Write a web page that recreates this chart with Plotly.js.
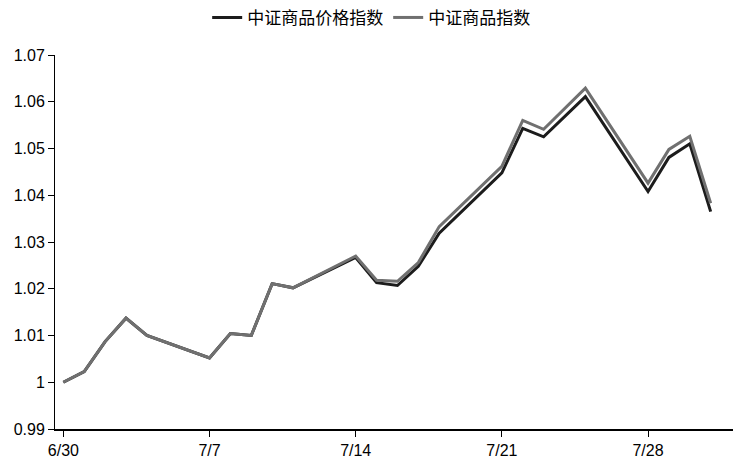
<!DOCTYPE html>
<html>
<head>
<meta charset="utf-8">
<script src="https://cdn.plot.ly/plotly-3.0.1.min.js"></script>
<style>html,body{margin:0;padding:0;background:#fff;}#chart{width:735px;height:471px;}</style>
</head>
<body>
<div id="chart"></div>
<script>
const dates = ['2025-06-30','2025-07-01','2025-07-02','2025-07-03','2025-07-04',
  '2025-07-07','2025-07-08','2025-07-09','2025-07-10','2025-07-11',
  '2025-07-14','2025-07-15','2025-07-16','2025-07-17','2025-07-18',
  '2025-07-21','2025-07-22','2025-07-23','2025-07-25',
  '2025-07-28','2025-07-29','2025-07-30','2025-07-31'];
const priceIndex = [1.0000,1.0023,1.0087,1.0137,1.0100,
  1.0052,1.0104,1.0100,1.0211,1.0202,
  1.0267,1.0213,1.0207,1.0248,1.0319,
  1.0448,1.0543,1.0525,1.0611,
  1.0408,1.0481,1.0510,1.0365];
const commodityIndex = [1.0000,1.0023,1.0087,1.0137,1.0100,
  1.0052,1.0104,1.0100,1.0211,1.0202,
  1.0270,1.0218,1.0216,1.0256,1.0333,
  1.0462,1.0560,1.0541,1.0629,
  1.0426,1.0498,1.0526,1.0383];
const seriesNames = ['中证商品价格指数','中证商品指数'];
const xTickVals = ['2025-06-30','2025-07-07','2025-07-14','2025-07-21','2025-07-28'];
const xTickText = ['6/30','7/7','7/14','7/21','7/28'];
const yTickVals = [0.99,1.00,1.01,1.02,1.03,1.04,1.05,1.06,1.07];
const yTickText = ['0.99','1','1.01','1.02','1.03','1.04','1.05','1.06','1.07'];

const traces = [
  {x: dates, y: priceIndex, name: seriesNames[0], type: 'scatter', mode: 'lines',
   line: {color: '#1c1c1c', width: 3}},
  {x: dates, y: commodityIndex, name: seriesNames[1], type: 'scatter', mode: 'lines',
   line: {color: '#707070', width: 3}}
];
const tickFont = {family: 'Liberation Sans, Arial, sans-serif', size: 16, color: '#000'};
const layout = {
  width: 735, height: 471,
  margin: {l: 55, r: 2, t: 55, b: 42},
  paper_bgcolor: '#fff', plot_bgcolor: '#fff',
  showlegend: true,
  legend: {orientation: 'h', xref: 'container', yref: 'container', x: 0.505, y: 0.962,
    xanchor: 'center', yanchor: 'middle',
    font: {family: 'Noto Sans CJK SC, sans-serif', size: 17, color: '#000'},
    itemwidth: 30, tracegroupgap: 0},
  xaxis: {type: 'date', range: ['2025-06-29 14:24', '2025-08-01 01:40'],
    tickmode: 'array', tickvals: xTickVals, ticktext: xTickText,
    ticks: 'outside', ticklen: 6, tickwidth: 1, tickcolor: '#000',
    showline: true, linecolor: '#000', linewidth: 1.5, showgrid: false, zeroline: false,
    tickfont: tickFont, fixedrange: true},
  yaxis: {range: [0.99, 1.07], tickmode: 'array', tickvals: yTickVals, ticktext: yTickText,
    ticks: 'outside', ticklen: 6, tickwidth: 1, tickcolor: '#000',
    showline: true, linecolor: '#000', linewidth: 1, showgrid: false, zeroline: false,
    tickfont: tickFont, fixedrange: true}
};
Plotly.newPlot('chart', traces, layout, {displayModeBar: false, staticPlot: true});
</script>
</body>
</html>
